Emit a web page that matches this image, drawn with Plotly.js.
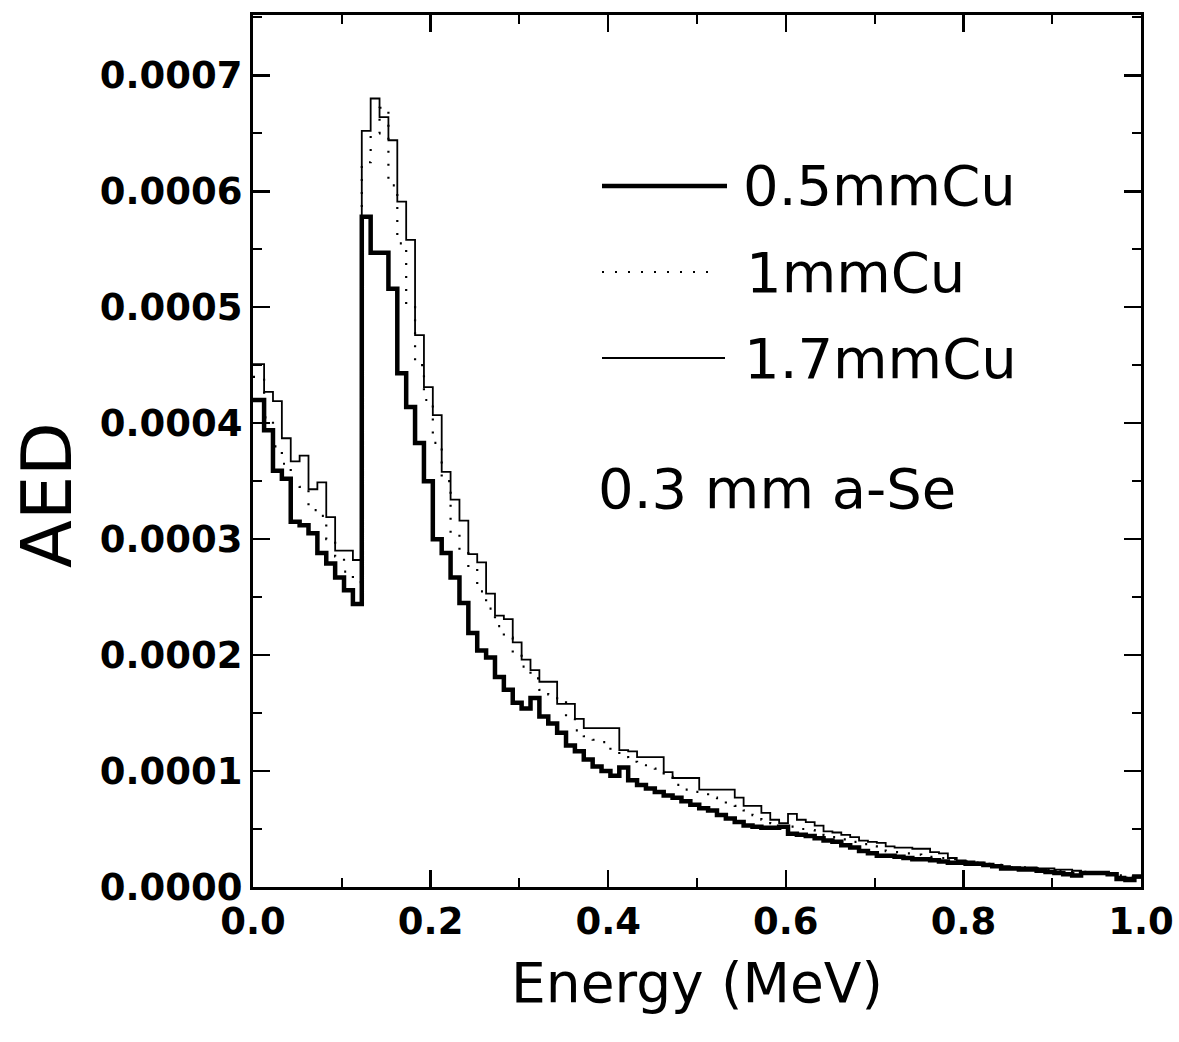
<!DOCTYPE html>
<html>
<head>
<meta charset="utf-8">
<script src="https://cdn.plot.ly/plotly-3.0.1.min.js"></script>
<style>
  html, body { margin: 0; padding: 0; background: #fff; }
  #chart { width: 1179px; height: 1042px; }
</style>
</head>
<body>
<div id="chart"></div>
<script>
// Energy bin left edges (MeV); last bin closes at 1.0
const binLeft = [0, 0.0125, 0.0225, 0.0325, 0.0425, 0.0525, 0.0625, 0.0725, 0.0825, 0.0925,
  0.1025, 0.1125, 0.1225, 0.1325, 0.1425, 0.1525, 0.1625, 0.1725, 0.1825, 0.1925,
  0.2025, 0.2125, 0.2225, 0.2325, 0.2425, 0.2525, 0.2625, 0.2725, 0.2825, 0.2925,
  0.3025, 0.3125, 0.3225, 0.3325, 0.3425, 0.3525, 0.3625, 0.3725, 0.3825, 0.3925,
  0.4025, 0.4125, 0.4225, 0.4325, 0.4425, 0.4525, 0.4625, 0.4725, 0.4825, 0.4925,
  0.5025, 0.5125, 0.5225, 0.5325, 0.5425, 0.5525, 0.5625, 0.5725, 0.5825, 0.5925,
  0.6025, 0.6125, 0.6225, 0.6325, 0.6425, 0.6525, 0.6625, 0.6725, 0.6825, 0.6925,
  0.7025, 0.7125, 0.7225, 0.7325, 0.7425, 0.7525, 0.7625, 0.7725, 0.7825, 0.7925,
  0.8025, 0.8125, 0.8225, 0.8325, 0.8425, 0.8525, 0.8625, 0.8725, 0.8825, 0.8925,
  0.9025, 0.9125, 0.9225, 0.9325, 0.9425, 0.9525, 0.9625, 0.9725, 0.9825, 0.9925];
const binEnd = 1.0;

// AED values in units of 1e-4
const aed05mmCu = [4.20, 3.94, 3.59, 3.52, 3.15, 3.12, 3.05, 2.88, 2.79, 2.67, 2.56, 2.44,
  5.78, 5.47, 5.47, 5.16, 4.43, 4.14, 3.83, 3.50, 3.00, 2.88, 2.67,
  2.45, 2.19, 2.04, 1.98, 1.81, 1.70, 1.59, 1.54, 1.63, 1.47, 1.41, 1.33, 1.22, 1.17, 1.10, 1.04, 1.00, 0.96,
  1.03, 0.92, 0.88, 0.85, 0.82, 0.79, 0.77, 0.74, 0.71, 0.68, 0.66, 0.62, 0.59, 0.56, 0.53, 0.52, 0.51, 0.51, 0.52, 0.46,
  0.45, 0.44, 0.42, 0.40, 0.39, 0.36, 0.34, 0.31, 0.29, 0.27, 0.27, 0.26, 0.25, 0.24, 0.24, 0.23, 0.22, 0.21, 0.21, 0.20,
  0.20, 0.19, 0.18, 0.16, 0.16, 0.15, 0.15, 0.14, 0.13, 0.12, 0.11, 0.10, 0.12, 0.12, 0.12, 0.11, 0.07, 0.06, 0.09];
const aed1mmCu = [4.40, 4.05, 3.80, 3.65, 3.47, 3.45, 3.25, 3.20, 3.00, 2.85, 2.72, 2.63,
  6.25, 6.50, 6.72, 6.05, 5.55, 5.00, 4.50, 4.20, 3.83, 3.50, 3.05,
  2.88, 2.75, 2.55, 2.40, 2.25, 2.15, 2.02, 1.90, 1.80, 1.70, 1.66, 1.62, 1.45, 1.35, 1.30, 1.27, 1.25, 1.18,
  1.12, 1.08, 1.05, 1.04, 1.02, 0.95, 0.88, 0.84, 0.82, 0.80, 0.77, 0.74, 0.72, 0.70, 0.66, 0.62, 0.58, 0.55, 0.52, 0.52,
  0.50, 0.49, 0.47, 0.45, 0.43, 0.41, 0.39, 0.37, 0.35, 0.33, 0.31, 0.30, 0.29, 0.28, 0.27, 0.26, 0.25, 0.24, 0.23, 0.22,
  0.21, 0.20, 0.19, 0.18, 0.17, 0.17, 0.16, 0.16, 0.15, 0.14, 0.14, 0.13, 0.13, 0.12, 0.12, 0.11, 0.10, 0.09, 0.09];
const aed17mmCu = [4.51, 4.27, 4.19, 3.87, 3.67, 3.72, 3.43, 3.49, 3.19, 2.90, 2.90, 2.82,
  6.52, 6.80, 6.64, 6.44, 5.91, 5.58, 4.76, 4.31, 4.07, 3.58, 3.34,
  3.16, 2.87, 2.80, 2.53, 2.34, 2.31, 2.11, 1.96, 1.87, 1.77, 1.77, 1.58, 1.58, 1.45, 1.37, 1.37, 1.37, 1.37,
  1.18, 1.17, 1.12, 1.12, 1.12, 0.99, 0.94, 0.94, 0.94, 0.84, 0.84, 0.84, 0.84, 0.77, 0.70, 0.70, 0.64, 0.58, 0.55, 0.63,
  0.58, 0.56, 0.53, 0.48, 0.47, 0.45, 0.43, 0.40, 0.39, 0.38, 0.35, 0.34, 0.34, 0.33, 0.33, 0.30, 0.29, 0.25, 0.23, 0.22,
  0.21, 0.20, 0.19, 0.18, 0.17, 0.17, 0.17, 0.16, 0.16, 0.15, 0.15, 0.14, 0.13, 0.13, 0.13, 0.12, 0.09, 0.08, 0.08];
const valueUnit = 1e-4;

const seriesNames = ['0.5mmCu', '1mmCu', '1.7mmCu'];
const xTickVals = [0.0, 0.2, 0.4, 0.6, 0.8, 1.0];
const yTickVals = [0.0000, 0.0001, 0.0002, 0.0003, 0.0004, 0.0005, 0.0006, 0.0007];
const xTitle = 'Energy (MeV)';
const yTitle = 'AED';
const note = '0.3 mm a-Se';

const FONT = 'DejaVu Sans, Arial, sans-serif';

function stepTrace(vals, name, line) {
  const x = binLeft.concat([binEnd]);
  const y = vals.map(v => v * valueUnit);
  y.push(y[y.length - 1]);
  return { x, y, name, type: 'scatter', mode: 'lines', line: Object.assign({ shape: 'hv', color: '#000' }, line), showlegend: false, hoverinfo: 'x+y' };
}

const traces = [
  stepTrace(aed17mmCu, seriesNames[2], { width: 1.8 }),
  stepTrace(aed1mmCu, seriesNames[1], { width: 2.2, dash: '2px,11px' }),
  stepTrace(aed05mmCu, seriesNames[0], { width: 4.5 })
];

function px2x(p) { return (p - 253) / 888; }
function px2y(p) { return (887 - p) / 872; }

const legendRows = [
  { name: seriesNames[0], y: 186, x1: 727, width: 4.5, dash: 'solid', tx: 741 },
  { name: seriesNames[1], y: 272, x1: 717, width: 2.2, dash: '2px,11px', tx: 744 },
  { name: seriesNames[2], y: 358, x1: 725, width: 1.8, dash: 'solid', tx: 742 }
];

const shapes = legendRows.map(r => ({
  type: 'line', xref: 'paper', yref: 'paper',
  x0: px2x(602), x1: px2x(r.x1), y0: px2y(r.y), y1: px2y(r.y),
  line: { color: '#000', width: r.width, dash: r.dash }
}));

const annotations = legendRows.map(r => ({
  xref: 'paper', yref: 'paper', x: px2x(r.tx), y: px2y(r.y),
  xanchor: 'left', yanchor: 'middle', showarrow: false, text: r.name,
  font: { family: FONT, size: 56, color: '#000' }
}));
annotations.push({
  xref: 'paper', yref: 'paper', x: px2x(596), y: px2y(488),
  xanchor: 'left', yanchor: 'middle', showarrow: false, text: note,
  font: { family: FONT, size: 56, color: '#000' }
});
annotations.push({
  xref: 'paper', yref: 'paper', x: px2x(47), y: px2y(495),
  xanchor: 'center', yanchor: 'middle', showarrow: false, text: yTitle, textangle: -90,
  font: { family: FONT, size: 70, color: '#000' }
});

const axisCommon = {
  showgrid: false, zeroline: false, showline: true, linecolor: '#000', linewidth: 3,
  mirror: 'ticks', ticks: 'inside', ticklen: 17, tickwidth: 2.5, tickcolor: '#000',
  tickfont: { family: FONT, size: 37, color: '#000', weight: 'bold' }
};

const layout = {
  width: 1179, height: 1042,
  margin: { l: 253, r: 38, t: 15, b: 155 },
  paper_bgcolor: '#fff', plot_bgcolor: '#fff',
  showlegend: false,
  xaxis: Object.assign({}, axisCommon, {
    range: [0, 1], tickmode: 'array', tickvals: xTickVals, tickformat: '.1f',
    minor: { ticks: 'inside', ticklen: 9, tickwidth: 2, tickcolor: '#000', dtick: 0.1, tick0: 0 },
    title: { text: xTitle, font: { family: FONT, size: 55, color: '#000' }, standoff: 22 }
  }),
  yaxis: Object.assign({}, axisCommon, {
    range: [0, 0.000752], tickmode: 'array', tickvals: yTickVals, tickformat: '.4f',
    minor: { ticks: 'inside', ticklen: 9, tickwidth: 2, tickcolor: '#000', dtick: 0.00005, tick0: 0 }
  }),
  shapes, annotations
};

Plotly.newPlot('chart', traces, layout, { displayModeBar: false, staticPlot: true });
</script>
</body>
</html>
